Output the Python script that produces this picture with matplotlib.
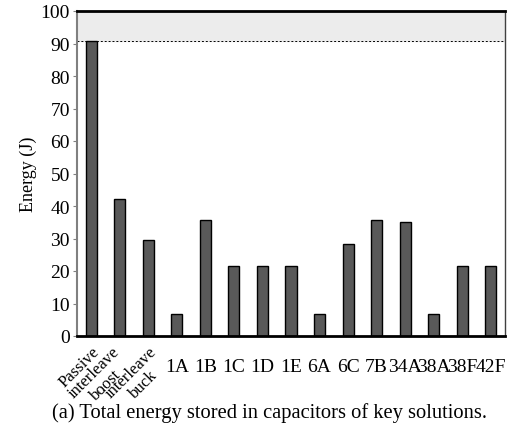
import matplotlib
matplotlib.use('Agg')
import matplotlib.pyplot as plt
import numpy as np

plt.rcParams['font.family'] = ['Liberation Serif', 'DejaVu Serif']

# energy stored in capacitors for each solution (J)
solutions = ['Passive', 'interleave\nboost', 'interleave\nbuck', '1A', '1B', '1C', '1D', '1E',
             '6A', '6C', '7B', '34A', '38A', '38F', '42F']
energy = [90.8, 42.3, 29.4, 6.8, 35.6, 21.4, 21.4, 21.4, 6.8, 28.4, 35.6, 35.2, 6.8, 21.6, 21.6]
limit = 90.8
# the first three names are long, so they get slanted
slant_shift = [0.0, -0.3, 0.02]

fig = plt.figure(figsize=(5.26, 4.39), dpi=100)
ax = fig.add_axes([77/526, 1-337/439, 428/526, 325/439])

x = np.arange(len(energy))
ax.axhspan(limit, 100, color='#ececec', zorder=0)
ax.axhline(limit, color='black', ls=(0, (2, 2)), lw=0.7, zorder=1)
ax.bar(x, energy, width=0.39, color='#595959', edgecolor='black', lw=1.0, zorder=2)

ax.set_xlim(-0.5, len(energy)-0.5)
ax.set_ylim(0, 100)
ax.set_yticks(np.arange(0, 101, 10))
ax.tick_params(axis='y', labelsize=14, length=3, color='#808080', pad=2)
ax.set_ylabel('Energy (J)', fontsize=13, labelpad=3)

ax.set_xticks([])
for i, name in enumerate(solutions):
    if i < len(slant_shift):
        ax.text(i + slant_shift[i], -0.022, name, transform=ax.get_xaxis_transform(), rotation=45,
                rotation_mode='anchor', ha='right', va='top', multialignment='center',
                fontsize=12, linespacing=1.1)
    else:
        ax.text(i, -0.095, name, transform=ax.get_xaxis_transform(),
                ha='center', va='center', fontsize=14)

ax.spines['left'].set_color('#808080')
ax.spines['left'].set_linewidth(1.5)
ax.spines['bottom'].set_linewidth(2)
ax.spines['top'].set_linewidth(2)
ax.spines['right'].set_color('#404040')
ax.spines['right'].set_linewidth(1)

fig.text(270/526, 1-413/439, '(a) Total energy stored in capacitors of key solutions.',
         ha='center', va='center', fontsize=14.8)

fig.savefig('out.png', dpi=100)
